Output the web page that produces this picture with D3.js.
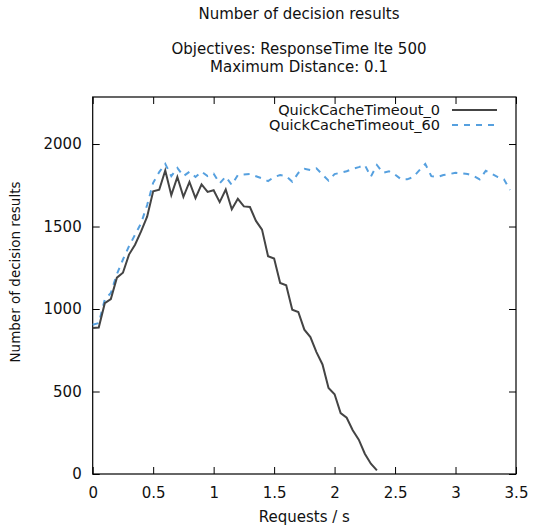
<!DOCTYPE html>
<html>
<head>
<meta charset="utf-8">
<script src="https://cdn.jsdelivr.net/npm/d3@7"></script>
<style>
  body { margin: 0; background: #fff; }
  svg text { font-family: "DejaVu Sans", sans-serif; fill: #111; }
</style>
</head>
<body>
<div id="chart"></div>
<script>
var titleLines = ['Number of decision results', 'Objectives: ResponseTime lte 500', 'Maximum Distance: 0.1'];
var xLabel = 'Requests / s';
var yLabel = 'Number of decision results';
var xTicks = [0, 0.5, 1, 1.5, 2, 2.5, 3, 3.5];
var yTicks = [0, 500, 1000, 1500, 2000];
var seriesNames = ['QuickCacheTimeout_0', 'QuickCacheTimeout_60'];

var rates0 = [0, 0.05, 0.1, 0.15, 0.2, 0.25, 0.3, 0.35, 0.4, 0.45, 0.5, 0.55, 0.6, 0.65, 0.7, 0.75,
  0.8, 0.85, 0.9, 0.95, 1, 1.05, 1.1, 1.15, 1.2, 1.25, 1.3, 1.35, 1.4, 1.45, 1.5, 1.55,
  1.6, 1.65, 1.7, 1.75, 1.8, 1.85, 1.9, 1.95, 2, 2.05, 2.1, 2.15, 2.2, 2.25, 2.3, 2.35];
var results0 = [885, 888, 1035, 1060, 1190, 1220, 1330, 1390, 1470, 1560, 1714, 1723, 1840, 1690, 1800, 1680,
  1770, 1672, 1755, 1710, 1720, 1648, 1724, 1605, 1668, 1622, 1618, 1534, 1481, 1320, 1306, 1158,
  1144, 996, 982, 875, 830, 739, 664, 521, 483, 369, 341, 265, 208, 123, 62, 22];

var rates60 = [0, 0.05, 0.1, 0.15, 0.2, 0.25, 0.3, 0.35, 0.4, 0.45, 0.5, 0.55, 0.6, 0.65, 0.7, 0.75,
  0.8, 0.85, 0.9, 0.95, 1, 1.05, 1.1, 1.15, 1.2, 1.25, 1.3, 1.35, 1.4, 1.45, 1.5, 1.55,
  1.6, 1.65, 1.7, 1.75, 1.8, 1.85, 1.9, 1.95, 2, 2.05, 2.1, 2.15, 2.2, 2.25, 2.3, 2.35,
  2.4, 2.45, 2.5, 2.55, 2.6, 2.65, 2.7, 2.75, 2.8, 2.85, 2.9, 2.95, 3, 3.05, 3.1, 3.15,
  3.2, 3.25, 3.3, 3.35, 3.4, 3.45];
var results60 = [905, 915, 1057, 1097, 1211, 1300, 1380, 1450, 1520, 1630, 1765, 1830, 1880, 1805, 1855, 1805,
  1832, 1800, 1832, 1806, 1820, 1762, 1802, 1752, 1812, 1815, 1818, 1805, 1792, 1775, 1800, 1812,
  1806, 1771, 1825, 1850, 1842, 1853, 1815, 1778, 1818, 1826, 1835, 1850, 1860, 1873, 1802, 1873,
  1826, 1835, 1815, 1786, 1786, 1800, 1840, 1879, 1805, 1800, 1812, 1818, 1826, 1822, 1818, 1806,
  1786, 1838, 1820, 1800, 1786, 1722];

var width = 533, height = 530;
var plotLeft = 92.7, plotRight = 516, plotTop = 97, plotBottom = 474;
var fontSize = '15px';

var svg = d3.select('#chart').append('svg')
  .attr('width', width)
  .attr('height', height);

var x = d3.scaleLinear().domain([0, 3.5]).range([plotLeft, plotRight]);
var y = d3.scaleLinear().domain([0, 2285]).range([plotBottom, plotTop]);

// titles
var titleY = [19, 54, 72];
titleLines.forEach(function(t, i) {
  svg.append('text').attr('x', 299).attr('y', titleY[i]).attr('text-anchor', 'middle')
    .style('font-size', fontSize).text(t);
});

// axes, gnuplot style ticks pointing in on all sides
var tickLen = 7;
svg.append('g').attr('transform', 'translate(0,' + plotBottom + ')')
  .call(d3.axisBottom(x).tickValues(xTicks).tickSizeInner(-tickLen).tickSizeOuter(0).tickPadding(13)
    .tickFormat(d3.format('')));
svg.append('g').attr('transform', 'translate(0,' + plotTop + ')')
  .call(d3.axisTop(x).tickValues(xTicks).tickSizeInner(-tickLen).tickSizeOuter(0).tickFormat(''));
svg.append('g').attr('transform', 'translate(' + plotLeft + ',0)')
  .call(d3.axisLeft(y).tickValues(yTicks).tickSizeInner(-tickLen).tickSizeOuter(0).tickPadding(11)
    .tickFormat(d3.format('')));
svg.append('g').attr('transform', 'translate(' + plotRight + ',0)')
  .call(d3.axisRight(y).tickValues(yTicks).tickSizeInner(-tickLen).tickSizeOuter(0).tickFormat(''));

svg.selectAll('.tick line').attr('stroke', '#000');
svg.selectAll('.domain').remove();
svg.selectAll('.tick text').style('font-size', fontSize).attr('fill', '#111')
  .attr('font-family', '"DejaVu Sans", sans-serif');

svg.append('rect')
  .attr('x', plotLeft).attr('y', plotTop)
  .attr('width', plotRight - plotLeft).attr('height', plotBottom - plotTop)
  .attr('fill', 'none').attr('stroke', '#000').attr('stroke-width', 1.2);

// axis labels
svg.append('text').attr('x', (plotLeft + plotRight) / 2).attr('y', 522).attr('text-anchor', 'middle')
  .style('font-size', fontSize).text(xLabel);
svg.append('text').attr('transform', 'translate(20,272) rotate(-90)').attr('text-anchor', 'middle')
  .style('font-size', '13.5px').text(yLabel);

// series
var line = d3.line()
  .x(function(d) { return x(d[0]); })
  .y(function(d) { return y(d[1]); });

var data0 = d3.zip(rates0, results0);
var data60 = d3.zip(rates60, results60);

svg.append('path').datum(data60)
  .attr('d', line)
  .attr('fill', 'none')
  .attr('stroke', '#56a0df')
  .attr('stroke-width', 2)
  .attr('stroke-dasharray', '6,6');

svg.append('path').datum(data0)
  .attr('d', line)
  .attr('fill', 'none')
  .attr('stroke', '#444')
  .attr('stroke-width', 2);

// legend
var legend = [
  { name: seriesNames[0], color: '#444', dash: null, y: 110 },
  { name: seriesNames[1], color: '#56a0df', dash: '6,6', y: 125 }
];
legend.forEach(function(item) {
  svg.append('text').attr('x', 440).attr('y', item.y).attr('dy', '0.35em')
    .attr('text-anchor', 'end').style('font-size', '14.5px').text(item.name);
  svg.append('line').attr('x1', 452).attr('x2', 497).attr('y1', item.y).attr('y2', item.y)
    .attr('stroke', item.color).attr('stroke-width', 2)
    .attr('stroke-dasharray', item.dash);
});
</script>
</body>
</html>
